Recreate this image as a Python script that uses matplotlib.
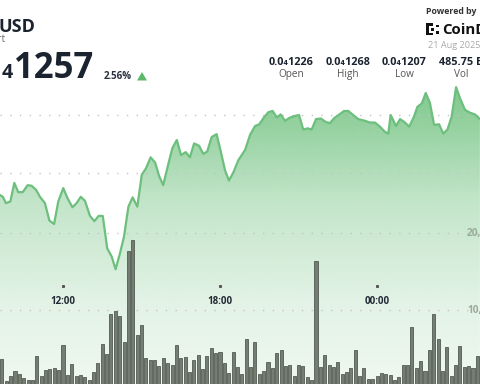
import numpy as np
import matplotlib
matplotlib.use("Agg")
import matplotlib.pyplot as plt
from matplotlib.patches import Polygon, Rectangle
from matplotlib.transforms import blended_transform_factory

plt.rcParams['font.family'] = ['Open Sans', 'DejaVu Sans']

# price line: time in hours (24 = 00:00 next day), price in 1e-8 USD
times = [9.59, 9.70, 9.82, 9.99, 10.14, 10.29, 10.46, 10.65, 10.80, 10.97,
         11.12, 11.31, 11.48, 11.66, 11.82, 12.01, 12.18, 12.36, 12.52, 12.68,
         12.84, 13.03, 13.20, 13.36, 13.52, 13.69, 13.86, 14.01, 14.18, 14.33,
         14.50, 14.66, 14.84, 15.01, 15.17, 15.35, 15.52, 15.68, 15.83, 16.00,
         16.18, 16.35, 16.51, 16.69, 16.85, 17.01, 17.20, 17.36, 17.51, 17.68,
         17.87, 18.03, 18.19, 18.34, 18.51, 18.70, 18.96, 19.15, 19.34, 19.50,
         19.68, 19.85, 20.01, 20.17, 20.32, 20.48, 20.65, 20.83, 21.02, 21.18,
         21.35, 21.50, 21.67, 21.85, 22.04, 22.20, 22.37, 22.56, 22.74, 22.90,
         23.09, 23.28, 23.54, 23.73, 23.92, 24.11, 24.30, 24.43, 24.52, 24.62,
         24.72, 24.88, 25.04, 25.23, 25.41, 25.54, 25.71, 25.86, 26.02, 26.18,
         26.37, 26.53, 26.69, 26.85, 27.02, 27.17, 27.36, 27.55, 27.74, 27.93]
prices = [1246.2, 1245.9, 1244.8, 1245.1, 1248.3, 1246.7, 1246.7, 1247.9, 1247.8, 1247.1,
          1245.9, 1244.8, 1241.8, 1241.2, 1245.1, 1247.4, 1245.6, 1244.1, 1244.8, 1245.9,
          1245.2, 1242.6, 1241.7, 1242.6, 1242.6, 1237.0, 1235.6, 1233.4, 1236.2, 1239.0,
          1244.2, 1245.8, 1244.2, 1249.7, 1250.8, 1252.7, 1251.8, 1249.4, 1247.9, 1251.1,
          1254.3, 1255.7, 1253.1, 1253.6, 1252.7, 1255.1, 1254.7, 1253.3, 1253.7, 1256.2,
          1256.7, 1253.7, 1250.5, 1248.7, 1250.1, 1252.2, 1254.0, 1256.6, 1258.1, 1258.4,
          1259.6, 1260.5, 1260.7, 1259.6, 1260.1, 1259.0, 1259.5, 1259.8, 1260.0, 1257.5,
          1257.7, 1257.5, 1259.3, 1259.4, 1258.8, 1258.6, 1259.5, 1260.1, 1260.7, 1260.7,
          1260.0, 1259.3, 1259.0, 1258.7, 1258.7, 1258.0, 1257.1, 1256.8, 1260.0, 1259.1,
          1258.1, 1259.3, 1258.8, 1258.0, 1259.7, 1261.4, 1262.0, 1263.8, 1262.1, 1258.3,
          1258.4, 1256.8, 1257.5, 1259.7, 1264.8, 1262.9, 1260.9, 1260.4, 1260.1, 1259.3]

# 10-minute volume bars (thousands), first bar at 09:30
vol_start = 9.5
volumes = [10.6, 3.6, 0.8, 1.4, 2.1, 1.7, 1.2, 0.9, 0.9, 4.0,
           1.4, 2.2, 2.3, 2.5, 2.2, 5.5, 1.6, 3.0, 1.4, 1.6,
           1.3, 0.9, 1.9, 3.1, 5.6, 4.3, 9.5, 9.9, 9.2, 5.8,
           17.7, 19.1, 6.8, 8.1, 3.8, 3.5, 3.5, 2.7, 3.8, 3.1,
           2.9, 5.5, 3.8, 3.9, 1.9, 3.5, 4.2, 2.3, 4.0, 5.1,
           4.4, 4.5, 3.1, 1.8, 4.5, 2.6, 1.7, 6.2, 2.6, 5.8,
           1.7, 2.1, 3.2, 2.5, 4.4, 4.8, 2.7, 2.9, 1.4, 2.9,
           2.7, 1.3, 0.9, 16.4, 2.6, 4.2, 2.9, 2.6, 3.2, 1.7,
           1.9, 2.5, 4.8, 1.4, 2.5, 1.0, 1.0, 1.4, 1.8, 1.7,
           1.6, 0.9, 1.3, 2.9, 2.9, 7.8, 2.5, 3.4, 2.1, 4.8,
           9.5, 6.2, 2.1, 5.2, 1.4, 2.9, 5.3, 2.6, 2.7, 2.5,
           4.0, 2.7]

tick_hours = [12, 18, 24]
tick_labels = ['12:00', '18:00', '00:00']
price_grid = [1260, 1250]
vol_grid = [20, 10]
vol_grid_labels = ['20,000', '10,000']

stat_values = ['0.0\u20841226', '0.0\u20841268', '0.0\u20841207', '485.75 B']
stat_names = ['Open', 'High', 'Low', 'Vol']
stat_x = [291.5, 348, 404.5, 461]

W, H = 480, 384
fig = plt.figure(figsize=(4.8, 3.84), dpi=100)
fig.patch.set_facecolor('white')

def px(x, y):
    return x / W, 1 - y / H

ax = fig.add_axes([0, 0, 1, 1])
ax.set_xlim(9.593, 27.934)
ax.set_ylim(1213.62, 1279.83)
ax.axis('off')

# gradient fill under the line
alpha_rows = np.interp(np.arange(H), [80, 110, 200, 300, 384], [0.8, 0.72, 0.38, 0.18, 0.1])
grad = np.zeros((H, 1, 4))
grad[:, 0, 0] = 95 / 255
grad[:, 0, 1] = 186 / 255
grad[:, 0, 2] = 112 / 255
grad[:, 0, 3] = alpha_rows
im = ax.imshow(grad, extent=[9.593, 27.934, 1213.62, 1279.83], aspect='auto',
               origin='upper', zorder=1, interpolation='bilinear')
verts = list(zip(times, prices)) + [(times[-1], 1200), (times[0], 1200)]
clip = Polygon(verts, closed=True, facecolor='none', edgecolor='none')
ax.add_patch(clip)
im.set_clip_path(clip)
ax.set_xlim(9.593, 27.934)
ax.set_ylim(1213.62, 1279.83)

for g in price_grid:
    ax.axhline(g, color='#c4c4c4', lw=1.0, ls=(0, (1, 6)), zorder=2)

ax.plot(times, prices, color='#6dbf7d', lw=1.6, zorder=4, solid_joinstyle='round')

# volume bars
ax2 = ax.twinx()
ax2.set_ylim(0.39, 50.26)
ax2.axis('off')
for g in vol_grid:
    ax2.axhline(g, color='#c4c4c4', lw=1.0, ls=(0, (1, 6)), zorder=1)
bar_t = [vol_start + i / 6 for i in range(len(volumes))]
ax2.bar(bar_t, volumes, width=0.7 / 6, color='#737d71', edgecolor='#535b52',
        linewidth=0.6, zorder=3)
ax2.set_xlim(9.593, 27.934)

# time axis labels
tr = blended_transform_factory(ax.transData, ax.transAxes)
for h, lab in zip(tick_hours, tick_labels):
    ax.plot([h], [1 - 286 / H], marker='s', ms=1.2, color='#555555', transform=tr, zorder=6)
    ax.text(h, 1 - 301 / H, lab, transform=tr, ha='center', va='center',
            fontsize=7, fontweight='bold', color='#222a35', zorder=6)

for g, lab in zip(vol_grid, vol_grid_labels):
    ax2.text(0.973, g, lab, transform=blended_transform_factory(ax2.transAxes, ax2.transData),
             ha='left', va='center', fontsize=7.2, fontweight='bold', color='#9aab9a', zorder=6)

# header
dark = '#1b2330'
fig.text(*px(-1, 32), 'USD', fontsize=13, fontweight='bold', color=dark, va='baseline')
fig.text(*px(5.5, 42), 'Chart', fontsize=7, color='#666666', ha='right', va='baseline')
fig.text(*px(93, 78), '1257', fontsize=25, fontweight='bold', color=dark, ha='right', va='baseline')
fig.text(*px(12.5, 78), '4', fontsize=14, fontweight='bold', color=dark, ha='right', va='baseline')
fig.text(*px(104, 79), '2.56%', fontsize=7, fontweight='bold', color='#2a3240', va='baseline')
fig.patches.append(Polygon([px(137, 80.5), px(147, 80.5), px(142, 72)], closed=True,
                           transform=fig.transFigure, facecolor='#5cb86a', edgecolor='none'))

fig.text(*px(426, 14), 'Powered by', fontsize=6.3, fontweight='bold', color='#333333', va='baseline')
# logo mark
for (x0, y0, w, h) in [(426, 23, 3, 12), (426, 23, 7, 2.5), (426, 32.5, 7, 2.5),
                       (430.5, 27.5, 3, 3), (436, 24.5, 2.5, 2.5), (436, 31, 2.5, 2.5)]:
    fig.patches.append(Rectangle(px(x0, y0 + h), w / W, h / H, transform=fig.transFigure,
                                 facecolor='#111111', edgecolor='none'))
fig.text(*px(442, 34), 'CoinDesk', fontsize=10.8, fontweight='bold', color='#111111', va='baseline')
fig.text(*px(428, 48), '21 Aug 2025', fontsize=6.6, color='#aaaaaa', va='baseline')

for x, v, n in zip(stat_x, stat_values, stat_names):
    fig.text(*px(x, 65), v, fontsize=7.8, fontweight='bold', color=dark, ha='center', va='baseline')
    fig.text(*px(x, 77), n, fontsize=7.2, color='#555555', ha='center', va='baseline')

fig.savefig('out.png', dpi=100, facecolor='white')
